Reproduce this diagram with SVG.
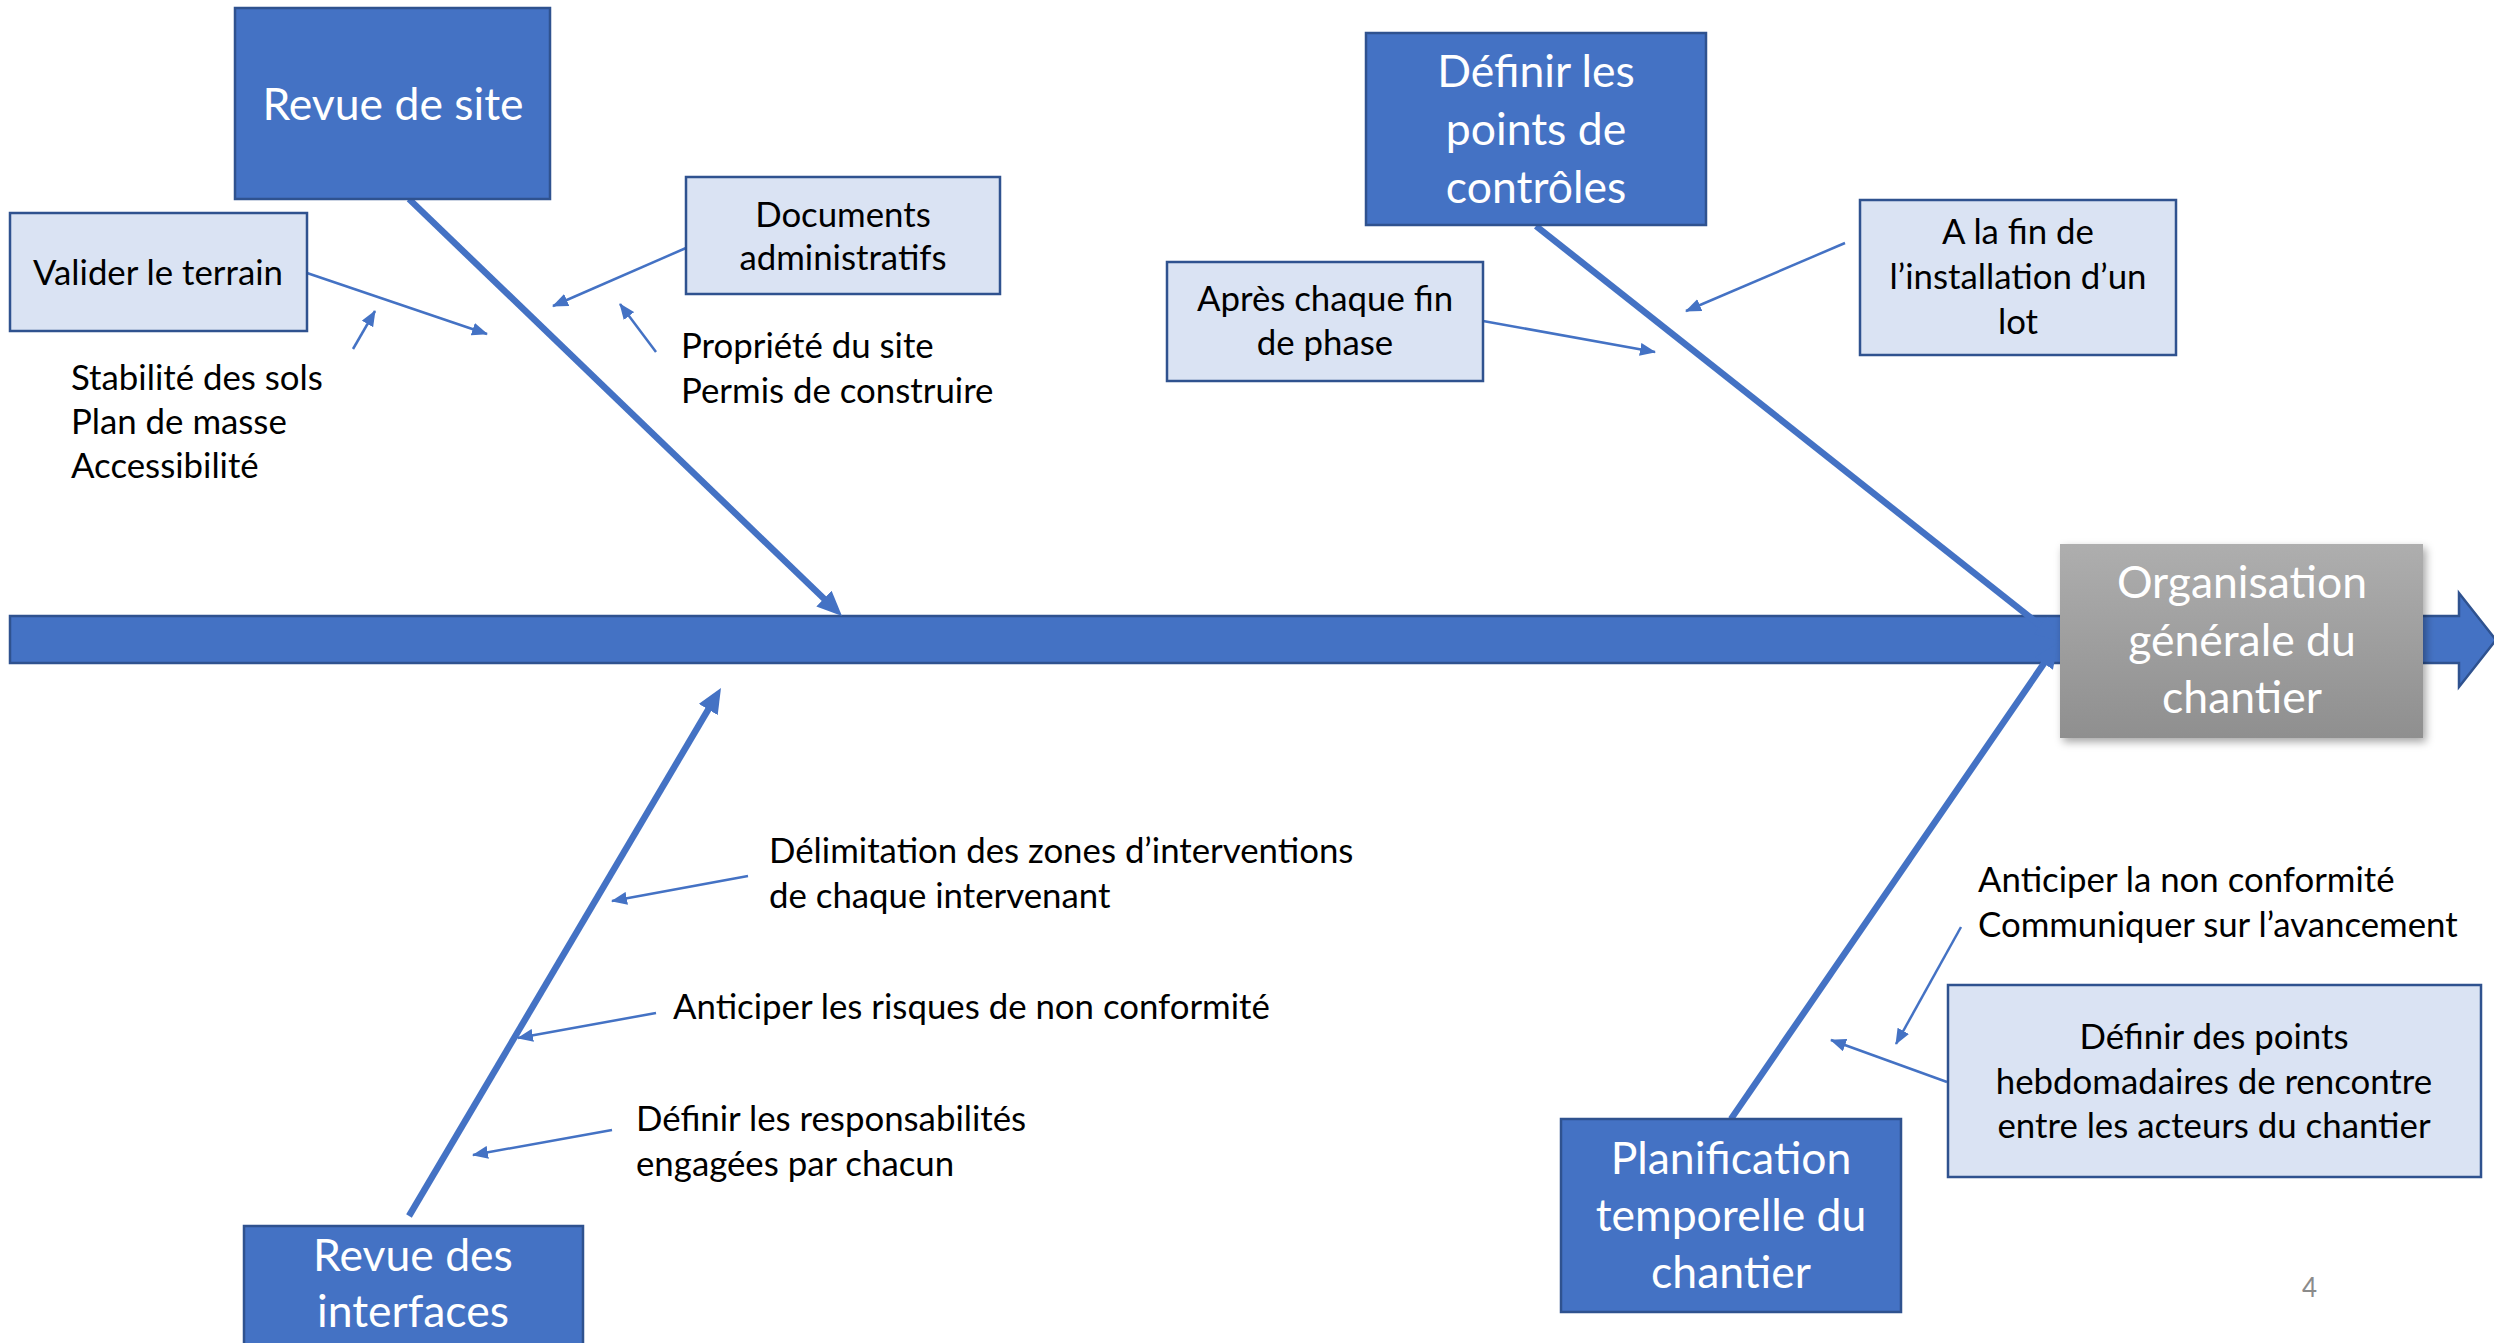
<svg xmlns="http://www.w3.org/2000/svg" width="2494" height="1343" viewBox="0 0 2494 1343">
<defs>
<style>
.dark{fill:#4472C4;stroke:#2F528F;stroke-width:2.5}
.light{fill:#DAE3F3;stroke:#2F528F;stroke-width:2.5}
.bone{stroke:#4472C4;stroke-width:6.5;fill:none;marker-end:url(#bh)}
.thin{stroke:#4472C4;stroke-width:2.5;fill:none;marker-end:url(#th)}
text{font-family:Lato,"Open Sans","Liberation Sans",sans-serif}
.t{font-size:34.8px;fill:#000}
.w{font-size:44.5px;fill:#FFFFFF;text-anchor:middle}
.c{text-anchor:middle}
</style>
<marker id="bh" markerUnits="userSpaceOnUse" markerWidth="25" markerHeight="22" refX="7" refY="11" orient="auto">
<path d="M0,0 L25,11 L0,22 Z" fill="#4472C4"/>
</marker>
<marker id="th" markerUnits="userSpaceOnUse" markerWidth="16" markerHeight="13" refX="15" refY="6.5" orient="auto">
<path d="M0,0 L16,6.5 L0,13 Z" fill="#4472C4"/>
</marker>
<linearGradient id="gray" x1="0" y1="0" x2="0" y2="1">
<stop offset="0" stop-color="#AEAEAE"/>
<stop offset="1" stop-color="#8F8F8F"/>
</linearGradient>
<filter id="sh" x="-10%" y="-10%" width="125%" height="125%">
<feDropShadow dx="3" dy="4" stdDeviation="4" flood-color="#000" flood-opacity="0.35"/>
</filter>
</defs>
<rect width="2494" height="1343" fill="#FFFFFF"/>

<g id="spine">
<path d="M10,616 L2459,616 L2459,593 L2496,640 L2459,687 L2459,663 L10,663 Z" fill="#4472C4" stroke="#2F528F" stroke-width="2.5"/>
</g>

<g id="connectors">
<line class="bone" x1="409" y1="199" x2="829" y2="603.5"/>
<line class="bone" x1="1536" y1="226" x2="2045.9" y2="629.8"/>
<line class="bone" x1="409" y1="1216" x2="711.8" y2="703.5"/>
<line class="bone" x1="1731" y1="1119" x2="2047.8" y2="657.8"/>
<line class="thin" x1="307" y1="273" x2="487" y2="334"/>
<line class="thin" x1="353" y1="349" x2="375" y2="311"/>
<line class="thin" x1="686" y1="248" x2="553" y2="306"/>
<line class="thin" x1="656" y1="352" x2="620" y2="304"/>
<line class="thin" x1="1483" y1="321" x2="1655" y2="352"/>
<line class="thin" x1="1845" y1="243" x2="1686" y2="311"/>
<line class="thin" x1="748" y1="876" x2="612" y2="901"/>
<line class="thin" x1="656" y1="1013" x2="518" y2="1038"/>
<line class="thin" x1="612" y1="1130" x2="473" y2="1155"/>
<line class="thin" x1="1961" y1="927" x2="1896" y2="1044"/>
<line class="thin" x1="1947" y1="1082" x2="1831" y2="1040"/>
</g>

<g id="effect">
<rect x="2060" y="544" width="363" height="194" fill="url(#gray)" filter="url(#sh)"/>
<text class="w" x="2242" y="598">Organisation</text>
<text class="w" x="2242" y="656">générale du</text>
<text class="w" x="2242" y="713">chantier</text>
</g>

<g id="revue-site">
<rect class="dark" x="235" y="8" width="315" height="191"/>
<text class="w" x="393" y="120">Revue de site</text>
</g>

<g id="valider-terrain">
<rect class="light" x="10" y="213" width="297" height="118"/>
<text class="t c" x="158" y="285">Valider le terrain</text>
</g>

<g id="documents">
<rect class="light" x="686" y="177" width="314" height="117"/>
<text class="t c" x="843" y="227">Documents</text>
<text class="t c" x="843" y="270">administratifs</text>
</g>

<g id="propriete">
<text class="t" x="681" y="358">Propriété du site</text>
<text class="t" x="681" y="403">Permis de construire</text>
</g>

<g id="stabilite">
<text class="t" x="71" y="390">Stabilité des sols</text>
<text class="t" x="71" y="434">Plan de masse</text>
<text class="t" x="71" y="478">Accessibilité</text>
</g>

<g id="points-controle">
<rect class="dark" x="1366" y="33" width="340" height="192"/>
<text class="w" x="1536" y="87">Définir les</text>
<text class="w" x="1536" y="145">points de</text>
<text class="w" x="1536" y="203">contrôles</text>
</g>

<g id="apres-phase">
<rect class="light" x="1167" y="262" width="316" height="119"/>
<text class="t c" x="1325" y="311">Après chaque fin</text>
<text class="t c" x="1325" y="355">de phase</text>
</g>

<g id="fin-lot">
<rect class="light" x="1860" y="200" width="316" height="155"/>
<text class="t c" x="2018" y="244">A la fin de</text>
<text class="t c" x="2018" y="289">l’installation d’un</text>
<text class="t c" x="2018" y="334">lot</text>
</g>

<g id="delimitation">
<text class="t" x="769" y="863">Délimitation des zones d’interventions</text>
<text class="t" x="769" y="908">de chaque intervenant</text>
</g>

<g id="anticiper-risques">
<text class="t" x="673" y="1019">Anticiper les risques de non conformité</text>
</g>

<g id="responsabilites">
<text class="t" x="636" y="1131">Définir les responsabilités</text>
<text class="t" x="636" y="1176">engagées par chacun</text>
</g>

<g id="revue-interfaces">
<rect class="dark" x="244" y="1226" width="339" height="130"/>
<text class="w" x="413" y="1271">Revue des</text>
<text class="w" x="413" y="1327">interfaces</text>
</g>

<g id="planification">
<rect class="dark" x="1561" y="1119" width="340" height="193"/>
<text class="w" x="1731" y="1174">Planification</text>
<text class="w" x="1731" y="1231">temporelle du</text>
<text class="w" x="1731" y="1288">chantier</text>
</g>

<g id="anticiper-communiquer">
<text class="t" x="1978" y="892">Anticiper la non conformité</text>
<text class="t" x="1978" y="937">Communiquer sur l’avancement</text>
</g>

<g id="points-hebdo">
<rect class="light" x="1948" y="985" width="533" height="192"/>
<text class="t c" x="2214" y="1049">Définir des points</text>
<text class="t c" x="2214" y="1094">hebdomadaires de rencontre</text>
<text class="t c" x="2214" y="1138">entre les acteurs du chantier</text>
</g>

<g id="page-number">
<text x="2302" y="1297" font-size="26" fill="#8B8B8B">4</text>
</g>
</svg>
